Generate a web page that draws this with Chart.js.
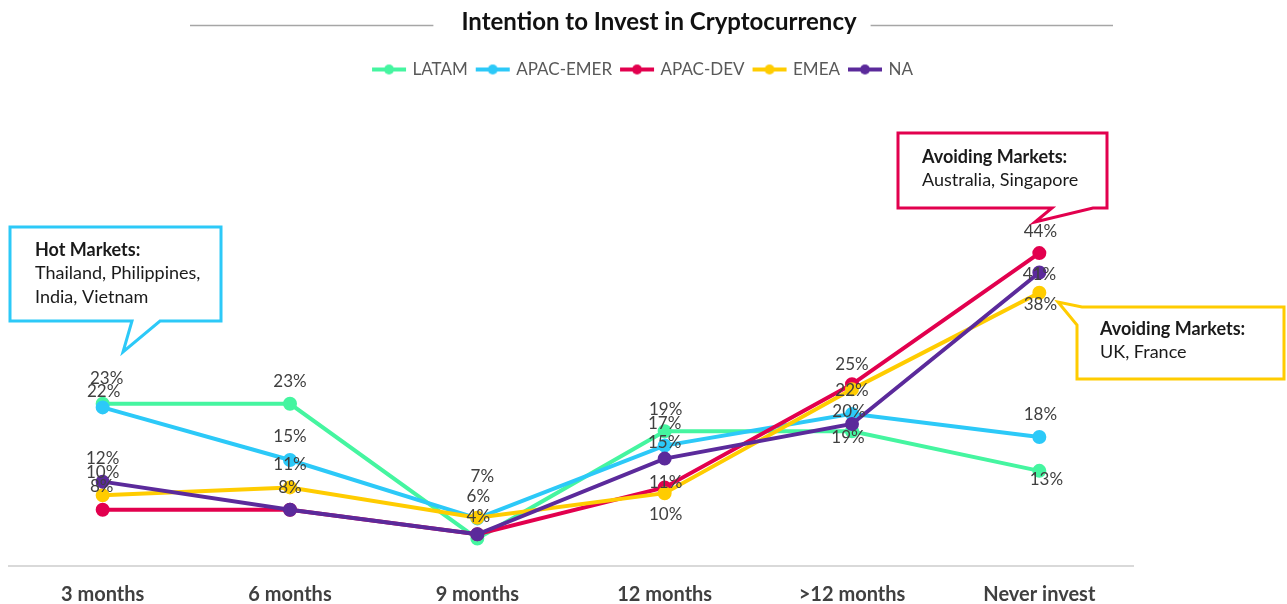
<!DOCTYPE html>
<html>
<head>
<meta charset="utf-8">
<title>Intention to Invest in Cryptocurrency</title>
<script src="https://cdn.jsdelivr.net/npm/chart.js@4.4.1/dist/chart.umd.min.js"></script>
<style>
    html, body { margin: 0; padding: 0; background: #fff; }
    #wrap { width: 1287px; height: 604px; position: relative; }
</style>
</head>
<body>
<div id="wrap"><canvas id="chart"></canvas></div>
<script>
// ============ DATA ============
const periods = ['3 months', '6 months', '9 months', '12 months', '>12 months', 'Never invest'];

const latam    = [23, 23, 4.3, 19.2, 19.2, 13.7];
const apacEmer = [22.5, 15.2, 7.1, 17.2, 21.6, 18.4];
const apacDev  = [8.3, 8.3, 4.9, 11.4, 25.7, 43.9];
const emea     = [10.3, 11.4, 7.2, 10.6, 25, 38.4];
const na       = [12.2, 8.3, 4.9, 15.4, 20.2, 41.2];

// value labels as printed on the chart (null = not shown)
const latamLabels    = ['23%', '23%', '4%', '19%', '19%', '13%'];
const apacEmerLabels = ['22%', '15%', '7%', '17%', '20%', '18%'];
const apacDevLabels  = ['8%', '8%', null, '11%', '25%', '44%'];
const emeaLabels     = ['10%', '11%', '6%', '10%', '22%', '38%'];
const naLabels       = ['12%', null, null, '15%', null, '41%'];

// ============ STYLE ============
const FONT = 'Lato, "Open Sans", sans-serif';
const COLORS = {
    latam: '#45F5A0',
    apacEmer: '#2CC9F8',
    apacDev: '#E2004E',
    emea: '#FFCC00',
    na: '#5B2A9B'
};

// label offsets from the point (dx, dy), hand placed like the original
const labelOffsets = {
    latam:    [[4, -25], [0, -22], [1, -22], [1, -22], [-4, 6], [7, 9]],
    apacEmer: [[1, -16], [0, -24], [5, -42], [0, -22], [-3, -2], [1, -22]],
    apacDev:  [[-1, -23], [0, -22], [0, 0], [1, -5], [0, -20], [1, -22]],
    emea:     [[0, -23], [0, -23], [1, -21], [1, 21], [0, 1], [1, 12]],
    na:       [[0, -23], [0, 0], [0, 0], [0, -16], [0, 0], [0, 2]]
};

const callouts = [
    {
        color: COLORS.apacEmer,
        shape: [[10, 227], [221, 227], [221, 321], [160, 321], [123, 352], [132, 321], [10, 321]],
        x: 35, y: 250,
        lines: [['Hot Markets:', true], ['Thailand, Philippines,', false], ['India, Vietnam', false]]
    },
    {
        color: COLORS.apacDev,
        shape: [[898, 133], [1107, 133], [1107, 208], [1093, 208], [1035, 222], [1052, 208], [898, 208]],
        x: 922, y: 157,
        lines: [['Avoiding Markets:', true], ['Australia, Singapore', false]]
    },
    {
        color: COLORS.emea,
        shape: [[1082, 307], [1284, 307], [1284, 379], [1077, 379], [1077, 325], [1058, 302]],
        x: 1100, y: 329,
        lines: [['Avoiding Markets:', true], ['UK, France', false]]
    }
];

// ============ HELPERS ============
function makeSeries(key, label, data, labels) {
    return {
        key,
        label,
        data,
        valueLabels: labels,
        borderColor: COLORS[key],
        backgroundColor: COLORS[key],
        pointBackgroundColor: COLORS[key],
        pointBorderColor: COLORS[key],
        borderWidth: 4,
        pointRadius: 5,
        pointHoverRadius: 5,
        tension: 0,
        fill: false
    };
}

// legend marker: short line with a dot in the middle
function legendIcon(color) {
    const c = document.createElement('canvas');
    c.width = 36;
    c.height = 12;
    const ctx = c.getContext('2d');
    ctx.strokeStyle = color;
    ctx.lineWidth = 4;
    ctx.beginPath();
    ctx.moveTo(1, 6);
    ctx.lineTo(35, 6);
    ctx.stroke();
    ctx.fillStyle = color;
    ctx.beginPath();
    ctx.arc(18, 6, 5, 0, Math.PI * 2);
    ctx.fill();
    return c;
}

// NA drawn on top, legend reversed back to LATAM first
const datasets = [
    makeSeries('na', 'NA', na, naLabels),
    makeSeries('emea', 'EMEA', emea, emeaLabels),
    makeSeries('apacDev', 'APAC-DEV', apacDev, apacDevLabels),
    makeSeries('apacEmer', 'APAC-EMER', apacEmer, apacEmerLabels),
    makeSeries('latam', 'LATAM', latam, latamLabels)
];

const decorations = {
    id: 'decorations',
    afterDatasetsDraw(chart) {
        const ctx = chart.ctx;
        ctx.save();
        ctx.font = `17px ${FONT}`;
        ctx.fillStyle = '#404040';
        ctx.textAlign = 'center';
        ctx.textBaseline = 'middle';
        chart.data.datasets.forEach((ds, i) => {
            const meta = chart.getDatasetMeta(i);
            meta.data.forEach((pt, j) => {
                const text = ds.valueLabels[j];
                if (!text) return;
                const [dx, dy] = labelOffsets[ds.key][j];
                ctx.fillText(text, pt.x + dx, pt.y + dy);
            });
        });
        ctx.restore();
    },
    afterDraw(chart) {
        const ctx = chart.ctx;
        ctx.save();

        // title with rules on both sides
        const title = 'Intention to Invest in Cryptocurrency';
        ctx.font = `bold 24px ${FONT}`;
        ctx.fillStyle = '#111111';
        ctx.textAlign = 'center';
        ctx.textBaseline = 'middle';
        const tx = 659, ty = 22;
        ctx.fillText(title, tx, ty);
        const w = ctx.measureText(title).width;
        ctx.strokeStyle = '#A6A6A6';
        ctx.lineWidth = 1.5;
        ctx.beginPath();
        ctx.moveTo(190, 25.5);
        ctx.lineTo(tx - w / 2 - 28, 25.5);
        ctx.moveTo(tx + w / 2 + 14, 25.5);
        ctx.lineTo(1113, 25.5);
        ctx.stroke();

        // callout boxes
        callouts.forEach(c => {
            ctx.beginPath();
            c.shape.forEach(([x, y], k) => k ? ctx.lineTo(x, y) : ctx.moveTo(x, y));
            ctx.closePath();
            ctx.fillStyle = '#ffffff';
            ctx.fill();
            ctx.lineWidth = 3;
            ctx.lineJoin = 'miter';
            ctx.strokeStyle = c.color;
            ctx.stroke();

            ctx.textAlign = 'left';
            ctx.fillStyle = '#1a1a1a';
            c.lines.forEach(([text, bold], k) => {
                ctx.font = `${bold ? 'bold ' : ''}18px ${FONT}`;
                ctx.fillText(text, c.x, c.y + k * 23.5);
            });
        });
        ctx.restore();
    }
};

// ============ CHART ============
const chart = new Chart(document.getElementById('chart'), {
    type: 'line',
    data: {
        labels: periods,
        datasets
    },
    options: {
        responsive: true,
        maintainAspectRatio: false,
        animation: false,
        devicePixelRatio: 1,
        layout: { padding: { top: 51, left: 0, right: 0, bottom: 0 } },
        plugins: {
            title: { display: false },
            tooltip: { enabled: false },
            legend: {
                position: 'top',
                reverse: true,
                labels: {
                    usePointStyle: true,
                    pointStyleWidth: 30,
                    padding: 10,
                    color: '#595959',
                    font: { family: FONT, size: 17 },
                    generateLabels(c) {
                        const items = Chart.defaults.plugins.legend.labels.generateLabels(c);
                        items.forEach(it => {
                            it.pointStyle = legendIcon(c.data.datasets[it.datasetIndex].borderColor);
                        });
                        return items;
                    }
                }
            }
        },
        scales: {
            x: {
                offset: true,
                grid: { display: false, drawTicks: false },
                border: { display: true, color: '#D9D9D9', width: 2 },
                ticks: {
                    color: '#404040',
                    padding: 17,
                    maxRotation: 0,
                    autoSkip: false,
                    font: { family: FONT, size: 20, weight: 'bold' }
                },
                afterFit(scale) { scale.height = 38; }
            },
            y: {
                min: 0.5,
                max: 66.8,
                position: 'left',
                ticks: { display: false },
                grid: { display: false, drawTicks: false },
                border: { display: false },
                afterFit(scale) { scale.width = 9; }
            },
            yRight: {
                min: 0,
                max: 1,
                position: 'right',
                ticks: { display: false },
                grid: { display: false, drawTicks: false },
                border: { display: false },
                afterFit(scale) { scale.width = 154; }
            }
        }
    },
    plugins: [decorations]
});
</script>
</body>
</html>
